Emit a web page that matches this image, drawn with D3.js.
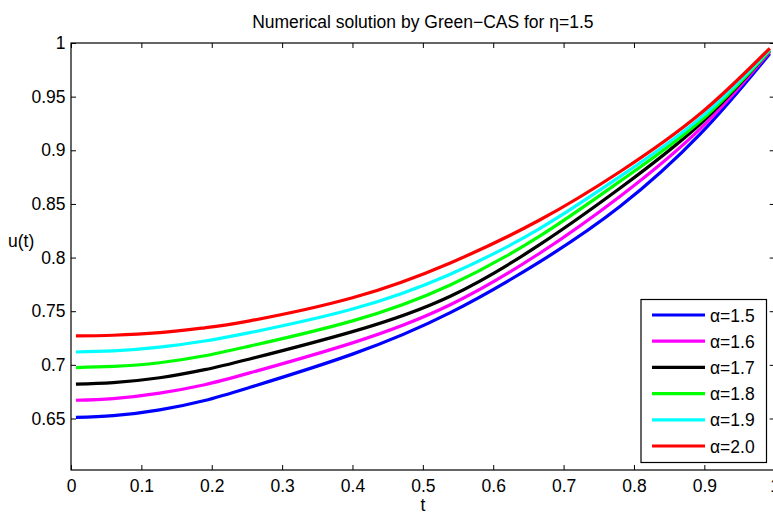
<!DOCTYPE html>
<html>
<head>
<meta charset="utf-8">
<script src="https://cdn.jsdelivr.net/npm/d3@7"></script>
<style>
  body { margin: 0; background: #fff; }
  svg { display: block; font-family: "Liberation Sans", Arial, sans-serif; }
</style>
</head>
<body>
<div id="chart"></div>
<script>
let tValues = [0.007, 0.06, 0.126, 0.19, 0.254, 0.4, 0.539, 0.666, 0.78, 0.894, 0.993];

let alphaLabels = ["α=1.5", "α=1.6", "α=1.7", "α=1.8", "α=1.9", "α=2.0"];
let colors = ["#0000ff", "#ff00ff", "#000000", "#00ff00", "#00ffff", "#ff0000"];

let u15 = [0.651, 0.6526, 0.658, 0.6668, 0.679, 0.710, 0.7487, 0.796, 0.8475, 0.915, 0.990];
let u16 = [0.667, 0.6686, 0.6737, 0.6815, 0.6925, 0.7205, 0.756, 0.804, 0.857, 0.920, 0.992];
let u17 = [0.682, 0.6835, 0.688, 0.6955, 0.7055, 0.731, 0.764, 0.812, 0.8646, 0.9245, 0.993];
let u18 = [0.6975, 0.6985, 0.702, 0.7085, 0.7175, 0.741, 0.7745, 0.820, 0.871, 0.927, 0.993];
let u19 = [0.712, 0.713, 0.7165, 0.7222, 0.730, 0.752, 0.7845, 0.827, 0.8755, 0.930, 0.994];
let u20 = [0.727, 0.7276, 0.730, 0.7345, 0.741, 0.7625, 0.795, 0.835, 0.880, 0.934, 0.995];

let xTicks = [0, 0.1, 0.2, 0.3, 0.4, 0.5, 0.6, 0.7, 0.8, 0.9, 1];
let yTicks = [0.65, 0.7, 0.75, 0.8, 0.85, 0.9, 0.95, 1];

let series = [u15, u16, u17, u18, u19, u20];

let W = 773, H = 514;
let padL = 71, padR = 774.7, padT = 43, padB = 470;

let svg = d3.select("#chart").append("svg")
    .attr("width", W)
    .attr("height", H);

let x = d3.scaleLinear().domain([0, 1]).range([padL, padR]);
let y = d3.scaleLinear().domain([0.602, 1]).range([padB, padT]);

// curves
let line = d3.line()
    .x(function(d) { return x(d[0]); })
    .y(function(d) { return y(d[1]); })
    .curve(d3.curveNatural);

series.forEach(function(vals, i) {
    svg.append("path")
        .datum(tValues.map(function(t, j) { return [t, vals[j]]; }))
        .attr("fill", "none")
        .attr("stroke", colors[i])
        .attr("stroke-width", 3.2)
        .attr("d", line);
});

// axes, ticks inward on all four sides
let tickStyle = function(g) {
    g.select(".domain").remove();
    g.selectAll(".tick line").attr("stroke", "#000");
    g.selectAll(".tick text").attr("fill", "#000").attr("font-family", "Liberation Sans, Arial, sans-serif");
};

svg.append("g")
    .attr("transform", "translate(0," + padB + ")")
    .call(d3.axisBottom(x).tickValues(xTicks).tickFormat(d3.format("~g")).tickSizeInner(-5).tickSizeOuter(0).tickPadding(10))
    .call(tickStyle)
    .selectAll("text").attr("font-size", 17.5);

svg.append("g")
    .attr("transform", "translate(0," + padT + ")")
    .call(d3.axisTop(x).tickValues(xTicks).tickFormat("").tickSizeInner(-5).tickSizeOuter(0))
    .call(tickStyle);

svg.append("g")
    .attr("transform", "translate(" + padL + ",0)")
    .call(d3.axisLeft(y).tickValues(yTicks).tickFormat(d3.format("~g")).tickSizeInner(-5).tickSizeOuter(0).tickPadding(5.5))
    .call(tickStyle)
    .selectAll("text").attr("font-size", 17.5);

svg.append("g")
    .attr("transform", "translate(" + padR + ",0)")
    .call(d3.axisRight(y).tickValues(yTicks).tickFormat("").tickSizeInner(-5).tickSizeOuter(0))
    .call(tickStyle);

svg.append("rect")
    .attr("x", padL).attr("y", padT)
    .attr("width", padR - padL).attr("height", padB - padT)
    .attr("fill", "none")
    .attr("stroke", "#000")
    .attr("stroke-width", 1.2);

// title and labels
svg.append("text")
    .attr("x", (padL + padR) / 2).attr("y", 28)
    .attr("text-anchor", "middle")
    .attr("font-size", 17.5)
    .text("Numerical solution by Green\u2212CAS for \u03b7=1.5");

svg.append("text")
    .attr("x", 8).attr("y", 247)
    .attr("font-size", 17.5)
    .text("u(t)");

svg.append("text")
    .attr("x", (padL + padR) / 2).attr("y", 511)
    .attr("text-anchor", "middle")
    .attr("font-size", 17.5)
    .text("t");

// legend
let lg = svg.append("g");
lg.append("rect")
    .attr("x", 641).attr("y", 299.5)
    .attr("width", 125.5).attr("height", 163)
    .attr("fill", "#fff")
    .attr("stroke", "#000")
    .attr("stroke-width", 1.2);

alphaLabels.forEach(function(lab, i) {
    let ly = 315 + i * 26.2;
    lg.append("line")
        .attr("x1", 652).attr("x2", 705)
        .attr("y1", ly).attr("y2", ly)
        .attr("stroke", colors[i])
        .attr("stroke-width", 3.2);
    lg.append("text")
        .attr("x", 710).attr("y", ly + 6.5)
        .attr("font-size", 17.5)
        .text(lab);
});
</script>
</body>
</html>
